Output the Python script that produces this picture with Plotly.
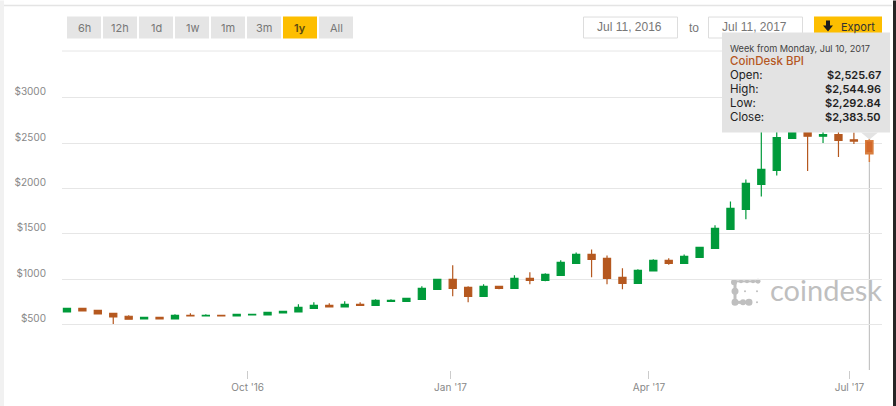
import plotly.graph_objects as go
import pandas as pd

start_date = "2016-07-11"
opens  = [639,680,658,625,592,562,581,562,603,595,603,595,606,606,628,639,680,713,695,724,713,757,757,779,889,999,911,812,922,900,1010,988,1043,1175,1274,1230,1021,955,1091,1208,1175,1241,1340,1550,1770,2045,2200,2551,2760,2577,2595,2537,2525.67]
highs  = [680,680,658,625,603,581,581,614,625,614,603,614,614,636,647,724,746,735,757,746,779,779,790,922,999,1153,922,944,922,1043,1076,1065,1208,1296,1329,1263,1120,1109,1219,1230,1274,1351,1594,1858,2100,2770,2640,2990,2960,2760,2720,2617,2544.96]
lows   = [639,650,617,507,559,562,562,562,595,595,595,595,606,606,628,639,672,695,695,713,713,750,757,779,889,812,746,812,889,900,944,977,1043,1175,1021,944,889,959,1091,1161,1175,1241,1340,1550,1660,1913,2144,2551,2192,2500,2346,2490,2292.84]
closes = [680,650,617,584,559,581,562,603,595,603,595,614,614,636,647,691,713,695,724,713,768,768,790,900,999,900,812,922,900,1010,988,1054,1186,1274,1219,1010,955,1098,1208,1175,1252,1351,1561,1781,2056,2210,2562,2760,2577,2595,2530,2522,2383.50]

y_ticks = [500,1000,1500,2000,2500,3000]
y_labels = ["$500","$1000","$1500","$2000","$2500","$3000"]
x_ticks = ["2016-10-01","2017-01-01","2017-04-01","2017-07-01"]
x_labels = ["Oct '16","Jan '17","Apr '17","Jul '17"]
buttons = ["6h","12h","1d","1w","1m","3m","1y","All"]
active_button = "1y"
date_from, date_to = "Jul 11, 2016", "Jul 11, 2017"
tip_title = "Week from Monday, Jul 10, 2017"
tip_series = "CoinDesk BPI"
tip_rows = [("Open:","$2,525.67"),("High:","$2,544.96"),("Low:","$2,292.84"),("Close:","$2,383.50")]

GREEN, RED, HILITE = "#009a3a", "#b5581f", "#d2682a"
weeks = pd.date_range(start_date, periods=len(opens), freq="7D")

L, R, T, B = 62, 882, 50.5, 369.7
W, H = 896, 406
px = lambda x: (x - L) / (R - L)
py = lambda y: (B - y) / (B - T)
FONT = "Inter, Lato, sans-serif"

fig = go.Figure()
fig.add_trace(go.Candlestick(
    x=weeks[:-1], open=opens[:-1], high=highs[:-1], low=lows[:-1], close=closes[:-1],
    increasing=dict(line=dict(color=GREEN, width=1.2), fillcolor=GREEN),
    decreasing=dict(line=dict(color=RED, width=1.2), fillcolor=RED),
    whiskerwidth=0, showlegend=False))
fig.add_trace(go.Candlestick(
    x=weeks, open=[None]*(len(opens)-1)+opens[-1:], high=[None]*(len(opens)-1)+highs[-1:],
    low=[None]*(len(opens)-1)+lows[-1:], close=[None]*(len(opens)-1)+closes[-1:],
    increasing=dict(line=dict(color="#d87d3e", width=1.5), fillcolor=HILITE),
    decreasing=dict(line=dict(color="#d87d3e", width=1.5), fillcolor=HILITE),
    whiskerwidth=0, showlegend=False))

shapes, ann = [], []

def rect(x0, y0, x1, y1, fill, line=None, layer="above"):
    shapes.append(dict(type="rect", xref="paper", yref="paper", x0=px(x0), x1=px(x1), y0=py(y0), y1=py(y1),
                       fillcolor=fill, line=dict(color=line or fill, width=1 if line else 0), layer=layer))

def seg(x0, y0, x1, y1, color, width=1, layer="below"):
    shapes.append(dict(type="line", xref="paper", yref="paper", x0=px(x0), x1=px(x1), y0=py(y0), y1=py(y1),
                       line=dict(color=color, width=width), layer=layer))

def dot(x, y, r, color="#bfbfbf"):
    shapes.append(dict(type="circle", xref="paper", yref="paper", x0=px(x-r), x1=px(x+r), y0=py(y+r), y1=py(y-r),
                       fillcolor=color, line=dict(width=0), layer="below"))

def poly(pts, fill, layer="above"):
    path = "M " + " L ".join(f"{px(x)} {py(y)}" for x, y in pts) + " Z"
    shapes.append(dict(type="path", xref="paper", yref="paper", path=path, fillcolor=fill,
                       line=dict(width=0), layer=layer))

def text(x, y, s, size=11, color="#777", anchor="center", font=FONT, weight=400):
    ann.append(dict(xref="paper", yref="paper", x=px(x), y=py(y), text=s, showarrow=False,
                    xanchor=anchor, yanchor="middle", font=dict(family=font, size=size, color=color, weight=weight),
                    borderpad=0))

# page furniture
rect(0, 0, 4, 406, "#f1f1f1", layer="below")
rect(893, 0, 896, 406, "#262626")
seg(4, 5, 892, 5, "#e4e4e4", 1.5)
seg(L, T, R, T, "#e6e6e6", 1)

# range buttons
for i, b in enumerate(buttons):
    x0 = 67 + 36 * i
    on = b == active_button
    rect(x0, 16, x0 + 34, 38, "#fdbe00" if on else "#e5e5e5", layer="below")
    text(x0 + 17, 27, b, 11, "#5a4a10" if on else "#777", weight=600 if on else 400)

# date boxes and export
AR = "Liberation Sans, Arial, sans-serif"
rect(583.5, 16.5, 677.5, 37.5, "#ffffff", "#dddddd", layer="below")
rect(708.5, 16.5, 802.5, 37.5, "#ffffff", "#dddddd", layer="below")
text(629.5, 26.5, date_from, 12, "#777", font=AR)
text(754.5, 26.5, date_to, 12, "#777", font=AR)
text(694, 27.5, "to", 12, "#777", font=AR)
rect(814, 16, 882, 38, "#fdbe00", layer="below")
poly([(826,20),(830,20),(830,25),(833,25),(828,31),(823,25),(826,25)], "#1d1d1d", layer="below")
text(840, 26, "Export", 11, "#333", anchor="left")

# crosshair
shapes.append(dict(type="line", xref="x", yref="y", x0=weeks[-1], x1=weeks[-1], y0=0, y1=lows[-1],
                   line=dict(color="#b8b8b8", width=1), layer="below"))

# tooltip
rect(722, 32, 890, 132, "#e3e3e3")
poly([(861,132),(869.5,139),(878,132)], "#e3e3e3")
text(728.5, 47.5, tip_title, 9.2, "#444", anchor="left")
text(728.5, 61, tip_series, 11.5, "#b5581f", anchor="left", weight=500)
for i, (k, v) in enumerate(tip_rows):
    yy = 75 + 14 * i
    text(728.5, yy, k, 11.5, "#222", anchor="left")
    text(882, yy, v, 11, "#222", anchor="right", weight=600)

# coindesk logo
for (x, y, r) in [(734, 282, 3), (741, 281, 2), (747, 281, 2), (753, 281, 2), (758, 281, 2.5),
                  (735, 291, 3.5), (735, 302, 3.5), (743, 302, 3), (749, 302, 3.5),
                  (745, 291, 1), (757, 291, 1), (757, 302, 1)]:
    dot(x, y, r)
seg(735, 282, 735, 302, "#bfbfbf", 3)
seg(735, 302, 749, 302, "#bfbfbf", 3)
seg(734, 281, 758, 281, "#bfbfbf", 2)
text(768.5, 289.5, "coindesk", 29, "#bfbfbf", anchor="left", font="Lato, sans-serif")

fig.update_layout(
    width=W, height=H, autosize=False,
    margin=dict(l=L, r=W - R, t=T, b=H - B, pad=0),
    paper_bgcolor="#ffffff", plot_bgcolor="#ffffff",
    showlegend=False, boxgap=0.34,
    shapes=shapes, annotations=ann,
    xaxis=dict(type="date", range=["2016-07-08 18:00", "2017-07-15 18:00"], rangeslider=dict(visible=False),
               tickvals=x_ticks, ticktext=x_labels, showgrid=False, zeroline=False, showline=False,
               ticks="outside", ticklen=8, tickcolor="#cccccc", tickwidth=1,
               tickfont=dict(family=FONT, size=10, color="#888")),
    yaxis=dict(range=[0, 3515], tickvals=y_ticks, ticktext=y_labels, showgrid=True, gridcolor="#e6e6e6",
               gridwidth=1, zeroline=False, showline=False, ticks="", ticklabelstandoff=15, ticklabelshift=-6,
               tickfont=dict(family=FONT, size=10, color="#888")),
)
fig.write_html("out.html", config=dict(displayModeBar=False),
               post_script="document.body.style.margin='0';document.body.style.overflow='hidden';")
